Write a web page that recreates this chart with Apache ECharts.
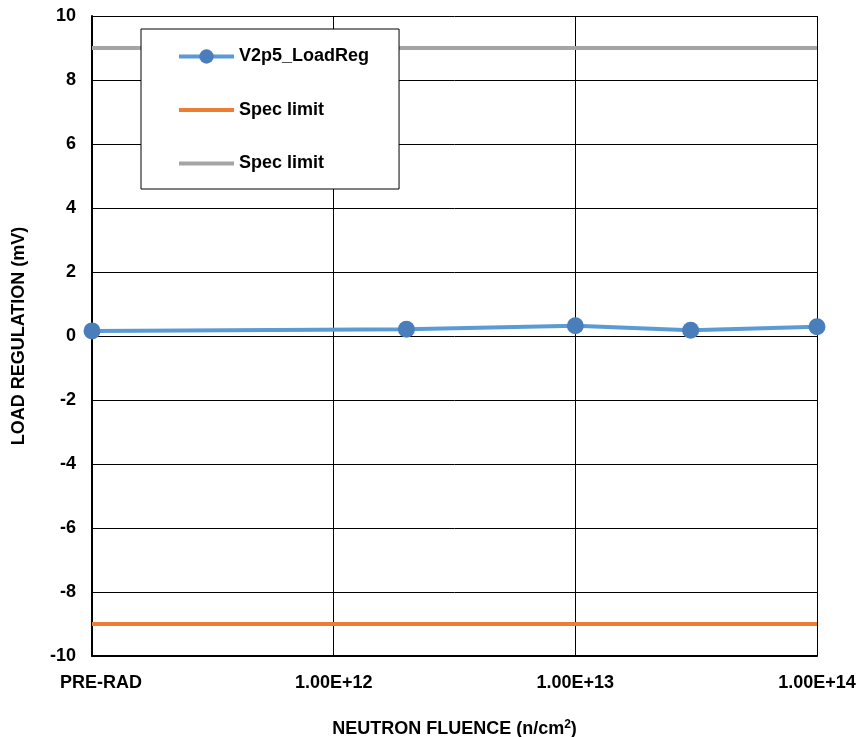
<!DOCTYPE html>
<html>
<head>
<meta charset="utf-8">
<script src="https://cdn.jsdelivr.net/npm/echarts@6/dist/echarts.min.js"></script>
<style>
  html, body { margin: 0; padding: 0; background: #fff; }
  #chart { width: 861px; height: 737px; }
</style>
</head>
<body>
<div id="chart"></div>
<script>
// Neutron fluence levels (PRE-RAD sits on the first decade of the log axis)
const fluence = [1e11, 2e12, 1e13, 3e13, 1e14];
const loadReg = [0.16, 0.21, 0.32, 0.18, 0.29];
const specLow = -9;
const specHigh = 9;
const xRange = [1e11, 1e14];
const preRadLabel = 'PRE-RAD';

const FONT = '"Liberation Sans", Arial, sans-serif';

const chart = echarts.init(document.getElementById('chart'), null, { renderer: 'canvas' });

chart.setOption({
  animation: false,
  backgroundColor: '#fff',
  grid: { left: 92, top: 16, right: 44, bottom: 81, containLabel: false, outerBoundsMode: 'none' },
  legend: {
    orient: 'vertical',
    left: 141,
    top: 29,
    padding: [18.5, 30, 16.5, 36],
    itemWidth: 55,
    itemHeight: 18,
    itemGap: 35.5,
    backgroundColor: '#fff',
    borderColor: '#000',
    borderWidth: 1,
    borderRadius: 0,
    textStyle: { fontFamily: FONT, fontWeight: 'bold', fontSize: 18, color: '#000', lineHeight: 16 },
    data: [
      { name: 'V2p5_LoadReg', lineStyle: { width: 4, color: '#5B9BD5' } },
      { name: 'Spec limit', lineStyle: { width: 4, color: '#ED7D31' }, itemStyle: { opacity: 0 } },
      { name: 'Spec limit ', lineStyle: { width: 4, color: '#A5A5A5' }, itemStyle: { opacity: 0 } }
    ]
  },
  xAxis: {
    type: 'log',
    logBase: 10,
    min: xRange[0],
    max: xRange[1],
    name: 'NEUTRON FLUENCE (n/cm{sup|2})',
    nameLocation: 'middle',
    nameGap: 63,
    nameTextStyle: {
      fontFamily: FONT, fontWeight: 'bold', fontSize: 18, color: '#000',
      rich: { sup: { fontFamily: FONT, fontWeight: 'bold', fontSize: 12, verticalAlign: 'top', padding: [0, 0, 8, 0] } }
    },
    axisLine: { show: true, onZero: false, lineStyle: { color: '#000', width: 2 } },
    axisTick: { show: false },
    minorTick: { show: false },
    splitLine: { show: true, lineStyle: { color: '#000', width: 1 } },
    axisLabel: {
      margin: 18,
      fontFamily: FONT, fontWeight: 'bold', fontSize: 18, color: '#000',
      showMinLabel: true, showMaxLabel: true,
      formatter: function (v) {
        if (Math.abs(v - xRange[0]) < 1) return '{pre|' + preRadLabel + '}';
        return v.toExponential(2).toUpperCase();
      },
      rich: { pre: { fontFamily: FONT, fontWeight: 'bold', fontSize: 18, color: '#000', padding: [0, 0, 0, 18] } }
    }
  },
  yAxis: {
    type: 'value',
    min: -10,
    max: 10,
    interval: 2,
    name: 'LOAD REGULATION (mV)',
    nameLocation: 'middle',
    nameGap: 64,
    nameTextStyle: { fontFamily: FONT, fontWeight: 'bold', fontSize: 18, color: '#000' },
    axisLine: { show: true, onZero: false, lineStyle: { color: '#000', width: 2 } },
    axisTick: { show: false },
    splitLine: { show: true, lineStyle: { color: '#000', width: 1 } },
    axisLabel: { margin: 16, fontFamily: FONT, fontWeight: 'bold', fontSize: 18, color: '#000' }
  },
  series: [
    {
      name: 'V2p5_LoadReg',
      type: 'line',
      data: fluence.map((f, i) => [f, loadReg[i]]),
      symbol: 'circle',
      symbolSize: 17,
      lineStyle: { color: '#5B9BD5', width: 4 },
      itemStyle: { color: '#4A7EBB' },
      z: 5
    },
    {
      name: 'Spec limit',
      type: 'line',
      data: xRange.map(f => [f, specLow]),
      symbol: 'none',
      lineStyle: { color: '#ED7D31', width: 4 },
      itemStyle: { color: '#ED7D31' },
      z: 3
    },
    {
      name: 'Spec limit ',
      type: 'line',
      data: xRange.map(f => [f, specHigh]),
      symbol: 'none',
      lineStyle: { color: '#A5A5A5', width: 4 },
      itemStyle: { color: '#A5A5A5' },
      z: 3
    }
  ]
});
</script>
</body>
</html>
